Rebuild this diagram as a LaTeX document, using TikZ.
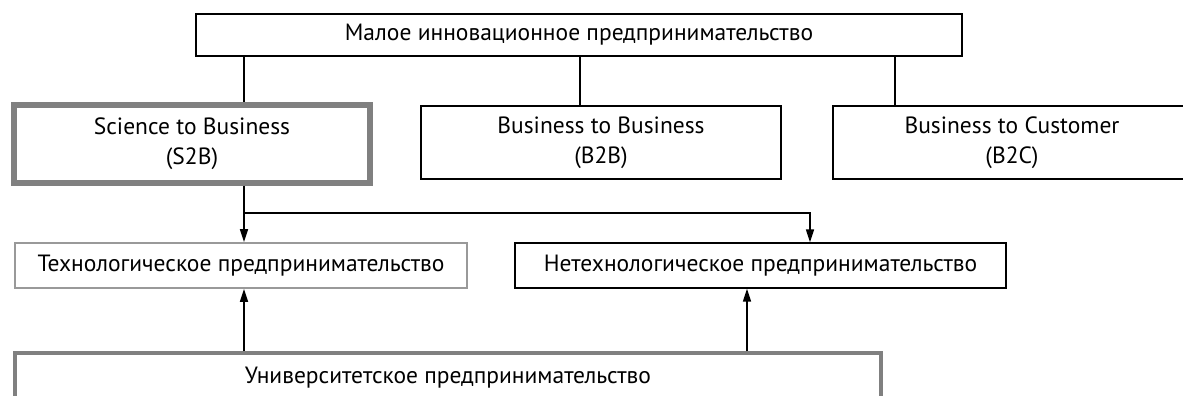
\documentclass[tikz,border=0pt]{standalone}
\usepackage{fontspec}
\setmainfont{PT Sans}
\usetikzlibrary{arrows.meta}

\begin{document}
\begin{tikzpicture}[x=1pt, y=-1pt,
    font=\fontsize{23.5}{30}\selectfont,
    box/.style={draw, line width=1.3pt, align=center, inner sep=0pt},
    greybox/.style={box, draw=gray},
    link/.style={line width=1.5pt},
    arr/.style={link, -{Triangle[length=13pt, width=8pt]}}]
    \useasboundingbox (0,0) rectangle (1183,396);
    \draw
        (579, 35.0) node[box, minimum width=766pt, minimum height=42pt](top){Малое инновационное предпринимательство}
        (192, 144.0) node[greybox, line width=5.5pt, minimum width=356pt, minimum height=78pt](stb){Science to Business\\(S2B)}
        (601, 142.5) node[box, minimum width=360pt, minimum height=73pt](btb){Business to Business\\(B2B)}
        (1012, 142.5) node[box, minimum width=358pt, minimum height=73pt](btc){Business to Customer\\(B2C)}
        (241, 265.5) node[greybox, draw=gray!80, line width=1.8pt, minimum width=452pt, minimum height=45pt](tech){Технологическое предпринимательство}
        (760.5, 265.5) node[box, minimum width=491pt, minimum height=45pt](ntech){Нетехнологическое предпринимательство}
        (448, 378.0) node[greybox, line width=3.5pt, minimum width=866pt, minimum height=50pt](univ){Университетское предпринимательство}
    ;
    \coordinate (split) at (244, 213);
    \draw[link] ([xshift=3pt]tech.north |- top.south) -- ([xshift=3pt]tech.north |- stb.north);
    \draw[link] ([xshift=-21pt]btb.north |- top.south) -- ([xshift=-21pt]btb.north);
    \draw[link] ([xshift=-117pt]btc.north |- top.south) -- ([xshift=-117pt]btc.north);
    \draw[arr] (split |- stb.south) -- ([xshift=3pt]tech.north);
    \draw[arr] (split) -| ([xshift=49.5pt]ntech.north);
    \draw[arr] ([xshift=3pt]tech.south |- univ.north) -- ([xshift=3pt]tech.south);
    \draw[arr] ([xshift=-13.5pt]ntech.south |- univ.north) -- ([xshift=-13.5pt]ntech.south);

\end{tikzpicture}
\end{document}
